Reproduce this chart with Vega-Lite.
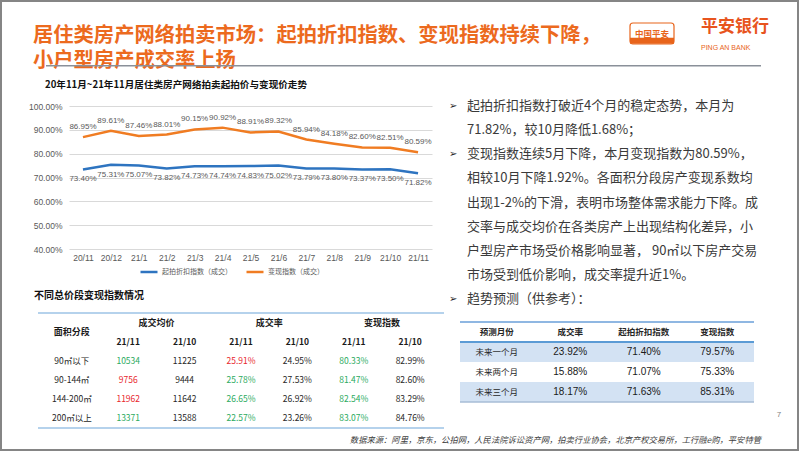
{
  "$schema": "https://vega.github.io/schema/vega-lite/v6.json",
  "padding": 0,
  "background": "white",
  "config": {"view": {"stroke": null}, "concat": {"spacing": 0}, "font": "Noto Sans CJK SC"},
  "columns": 3, "align": "each", "bounds": "flush", "spacing": 0,
  "concat": [
    {"width": 2, "height": 2, "view": {"fill": "#858585", "stroke": null}, "data": {"values": []}, "mark": "text", "encoding": {}},
    {"width": 795, "height": 2, "view": {"fill": "#858585", "stroke": null}, "data": {"values": []}, "mark": "text", "encoding": {}},
    {"width": 2, "height": 2, "view": {"fill": "#858585", "stroke": null}, "data": {"values": []}, "mark": "text", "encoding": {}},
    {"width": 2, "height": 447, "view": {"fill": "#858585", "stroke": null}, "data": {"values": []}, "mark": "text", "encoding": {}},
    {
      "columns": 2, "align": "each", "bounds": "flush", "spacing": 0,
      "concat": [
        {"width": 0.01, "height": 63, "data": {"values": []}, "mark": "text", "encoding": {}},
        {
          "bounds": "flush", "spacing": 0,
          "hconcat": [
            {"width": 30, "height": 63, "data": {"values": []}, "mark": "text", "encoding": {}},
            {
              "width": 589, "height": 63,
              "data": {"values": [
                {"line": 1, "col": "t", "text": "居住类房产网络拍卖市场：起拍折扣指数、变现指数持续下降，"},
                {"line": 2, "col": "t", "text": "小户型房产成交率上扬"}
              ]},
              "mark": {"type": "text", "align": "left", "baseline": "middle", "fontSize": 20.3, "fontWeight": "bold", "color": "#EC6A1E"},
              "encoding": {
                "x": {"field": "col", "type": "nominal", "axis": null, "scale": {"type": "point", "padding": 0, "align": 0}},
                "y": {"field": "line", "type": "ordinal", "axis": null, "scale": {"type": "point", "padding": 0.76, "align": 0.895}},
                "text": {"field": "text"}
              }
            },
            {"width": 8, "height": 63, "data": {"values": []}, "mark": "text", "encoding": {}},
            {
              "width": 44, "height": 63,
              "layer": [
                {
                  "data": {"values": [{"part": "box"}]},
                  "mark": {"type": "rect", "fill": "white", "stroke": "#E8641B", "strokeWidth": 1.2, "cornerRadius": 3},
                  "encoding": {"y": {"field": "part", "type": "nominal", "axis": null, "scale": {"type": "band", "domain": ["a", "box", "c"], "paddingInner": 0, "paddingOuter": 0}}}
                },
                {
                  "data": {"values": [{"part": "box"}]},
                  "mark": {"type": "rule", "color": "#E8641B", "strokeWidth": 6},
                  "encoding": {"y": {"field": "part", "type": "nominal", "bandPosition": 0.85, "axis": null, "scale": {"type": "band", "domain": ["a", "box", "c"], "paddingInner": 0, "paddingOuter": 0}}}
                },
                {
                  "data": {"values": [{"part": "box", "text": "中国平安"}]},
                  "mark": {"type": "text", "color": "#E8641B", "fontSize": 8.5, "fontWeight": "bold", "baseline": "middle"},
                  "encoding": {
                    "y": {"field": "part", "type": "nominal", "bandPosition": 0.5, "axis": null, "scale": {"type": "band", "domain": ["a", "box", "c"], "paddingInner": 0, "paddingOuter": 0}},
                    "text": {"field": "text"}
                  }
                }
              ]
            },
            {"width": 27, "height": 63, "data": {"values": []}, "mark": "text", "encoding": {}},
            {
              "width": 70, "height": 63,
              "data": {"values": [
                {"k": "cn", "c": "x", "text": "平安银行"},
                {"k": "en", "c": "x", "text": "PING AN BANK"}
              ]},
              "encoding": {
                "x": {"field": "c", "type": "nominal", "axis": null, "scale": {"type": "point", "padding": 0, "align": 0}},
                "y": {"field": "k", "type": "nominal", "axis": null, "scale": {"type": "point", "domain": ["cn", "en"], "padding": 3.44, "align": 0.6}},
                "text": {"field": "text"}
              },
              "layer": [
                {"transform": [{"filter": "datum.k === 'cn'"}], "mark": {"type": "text", "align": "left", "baseline": "middle", "fontSize": 17, "fontWeight": "bold", "color": "#E8541E"}},
                {"transform": [{"filter": "datum.k === 'en'"}], "mark": {"type": "text", "align": "left", "baseline": "middle", "fontSize": 7, "font": "Liberation Sans", "color": "#E8641B"}}
              ]
            }
          ]
        },
        {"width": 0.01, "height": 2, "data": {"values": []}, "mark": "text", "encoding": {}},
        {
          "bounds": "flush", "spacing": 0,
          "hconcat": [
            {"width": 43, "height": 2, "data": {"values": []}, "mark": "text", "encoding": {}},
            {"width": 715, "height": 1.5, "view": {"fill": "#8A9099", "stroke": null}, "data": {"values": []}, "mark": "text", "encoding": {}}
          ]
        },
        {"width": 0.01, "height": 360, "data": {"values": []}, "mark": "text", "encoding": {}},
        {
          "columns": 2, "align": "each", "bounds": "flush", "spacing": 0,
          "concat": [
            {"width": 440, "height": 0.01, "data": {"values": []}, "mark": "text", "encoding": {}},
            {"width": 355, "height": 0.01, "data": {"values": []}, "mark": "text", "encoding": {}},
            {
              "columns": 2, "align": "each", "bounds": "flush", "spacing": 0,
              "concat": [
                {"width": 0.01, "height": 38, "data": {"values": []}, "mark": "text", "encoding": {}},
                {"width": 0.01, "height": 0.01, "data": {"values": []}, "mark": "text", "encoding": {}},
                {"width": 0.01, "height": 143, "data": {"values": []}, "mark": "text", "encoding": {}},
                {
                  "bounds": "flush", "spacing": 0,
                  "hconcat": [
                    {"width": 65, "height": 143, "data": {"values": []}, "mark": "text", "encoding": {}},
                    {
                      "width": 363, "height": 143,
                      "title": {"text": "20年11月~21年11月居住类房产网络拍卖起拍价与变现价走势", "anchor": "start", "frame": "group", "dx": -24, "offset": 2, "baseline": "bottom", "fontSize": 9.6, "fontWeight": "bold", "color": "#111111"},
                      "data": {"values": [
                        {"month": "20/11", "series": "起拍折扣指数（成交）", "value": 0.7340},
                        {"month": "20/12", "series": "起拍折扣指数（成交）", "value": 0.7531},
                        {"month": "21/1", "series": "起拍折扣指数（成交）", "value": 0.7507},
                        {"month": "21/2", "series": "起拍折扣指数（成交）", "value": 0.7382},
                        {"month": "21/3", "series": "起拍折扣指数（成交）", "value": 0.7473},
                        {"month": "21/4", "series": "起拍折扣指数（成交）", "value": 0.7474},
                        {"month": "21/5", "series": "起拍折扣指数（成交）", "value": 0.7483},
                        {"month": "21/6", "series": "起拍折扣指数（成交）", "value": 0.7502},
                        {"month": "21/7", "series": "起拍折扣指数（成交）", "value": 0.7379},
                        {"month": "21/8", "series": "起拍折扣指数（成交）", "value": 0.7380},
                        {"month": "21/9", "series": "起拍折扣指数（成交）", "value": 0.7337},
                        {"month": "21/10", "series": "起拍折扣指数（成交）", "value": 0.7350},
                        {"month": "21/11", "series": "起拍折扣指数（成交）", "value": 0.7182},
                        {"month": "20/11", "series": "变现指数（成交）", "value": 0.8695},
                        {"month": "20/12", "series": "变现指数（成交）", "value": 0.8961},
                        {"month": "21/1", "series": "变现指数（成交）", "value": 0.8746},
                        {"month": "21/2", "series": "变现指数（成交）", "value": 0.8801},
                        {"month": "21/3", "series": "变现指数（成交）", "value": 0.9015},
                        {"month": "21/4", "series": "变现指数（成交）", "value": 0.9092},
                        {"month": "21/5", "series": "变现指数（成交）", "value": 0.8891},
                        {"month": "21/6", "series": "变现指数（成交）", "value": 0.8932},
                        {"month": "21/7", "series": "变现指数（成交）", "value": 0.8594},
                        {"month": "21/8", "series": "变现指数（成交）", "value": 0.8418},
                        {"month": "21/9", "series": "变现指数（成交）", "value": 0.8260},
                        {"month": "21/10", "series": "变现指数（成交）", "value": 0.8251},
                        {"month": "21/11", "series": "变现指数（成交）", "value": 0.8059}
                      ]},
                      "encoding": {
                        "x": {"field": "month", "type": "ordinal", "sort": ["20/11", "20/12", "21/1", "21/2", "21/3", "21/4", "21/5", "21/6", "21/7", "21/8", "21/9", "21/10", "21/11"], "scale": {"type": "point", "padding": 0.5},
                          "axis": {"title": null, "domain": false, "ticks": false, "grid": false, "labelAngle": 0, "labelColor": "#595959", "labelFontSize": 8.5, "labelFont": "Liberation Sans", "labelPadding": 4}},
                        "y": {"field": "value", "type": "quantitative", "scale": {"domain": [0.4, 1]},
                          "axis": {"title": null, "format": ".2%", "values": [0.4, 0.5, 0.6, 0.7, 0.8, 0.9, 1.0], "domain": false, "ticks": false, "gridColor": "#D9D9D9", "gridWidth": 1, "labelColor": "#595959", "labelFontSize": 8.5, "labelFont": "Liberation Sans", "labelPadding": 7}}
                      },
                      "layer": [
                        {
                          "mark": {"type": "line", "strokeWidth": 2.5},
                          "encoding": {
                            "color": {"field": "series", "type": "nominal",
                              "scale": {"domain": ["起拍折扣指数（成交）", "变现指数（成交）"], "range": ["#2E74C0", "#F07C22"]},
                              "legend": {"orient": "none", "legendX": 139, "legendY": 262, "direction": "horizontal", "title": null, "symbolType": "stroke", "symbolStrokeWidth": 2.5, "symbolSize": 289, "labelFontSize": 7, "labelColor": "#595959", "columnPadding": 9, "labelOffset": 3}}
                          }
                        },
                        {
                          "transform": [{"filter": "datum.series === '变现指数（成交）'"}],
                          "mark": {"type": "text", "dy": -10, "fontSize": 8, "font": "Liberation Sans", "color": "#595959"},
                          "encoding": {"text": {"field": "value", "format": ".2%"}}
                        },
                        {
                          "transform": [{"filter": "datum.series === '起拍折扣指数（成交）'"}],
                          "mark": {"type": "text", "dy": 10, "fontSize": 8, "font": "Liberation Sans", "color": "#595959"},
                          "encoding": {"text": {"field": "value", "format": ".2%"}}
                        }
                      ]
                    }
                  ]
                },
                {"width": 0.01, "height": 64, "data": {"values": []}, "mark": "text", "encoding": {}},
                {"width": 0.01, "height": 0.01, "data": {"values": []}, "mark": "text", "encoding": {}},
                {"width": 0.01, "height": 115, "data": {"values": []}, "mark": "text", "encoding": {}},
                {
                  "bounds": "flush", "spacing": 0,
                  "hconcat": [
                    {"width": 34, "height": 115, "data": {"values": []}, "mark": "text", "encoding": {}},
                    {
                      "width": 406, "height": 115,
                      "title": {"text": "不同总价段变现指数情况", "anchor": "start", "frame": "group", "dx": -4, "offset": 1, "baseline": "bottom", "fontSize": 10, "fontWeight": "bold", "color": "#111111"},
                      "data": {"values": [
                        {"row": "r1", "col": "c0", "text": "90㎡以下", "tone": "black"},
                        {"row": "r1", "col": "c1", "text": "10534", "tone": "green"},
                        {"row": "r1", "col": "c2", "text": "11225", "tone": "black"},
                        {"row": "r1", "col": "c3", "text": "25.91%", "tone": "red"},
                        {"row": "r1", "col": "c4", "text": "24.95%", "tone": "black"},
                        {"row": "r1", "col": "c5", "text": "80.33%", "tone": "green"},
                        {"row": "r1", "col": "c6", "text": "82.99%", "tone": "black"},
                        {"row": "r2", "col": "c0", "text": "90-144㎡", "tone": "black"},
                        {"row": "r2", "col": "c1", "text": "9756", "tone": "red"},
                        {"row": "r2", "col": "c2", "text": "9444", "tone": "black"},
                        {"row": "r2", "col": "c3", "text": "25.78%", "tone": "green"},
                        {"row": "r2", "col": "c4", "text": "27.53%", "tone": "black"},
                        {"row": "r2", "col": "c5", "text": "81.47%", "tone": "green"},
                        {"row": "r2", "col": "c6", "text": "82.60%", "tone": "black"},
                        {"row": "r3", "col": "c0", "text": "144-200㎡", "tone": "black"},
                        {"row": "r3", "col": "c1", "text": "11962", "tone": "red"},
                        {"row": "r3", "col": "c2", "text": "11642", "tone": "black"},
                        {"row": "r3", "col": "c3", "text": "26.65%", "tone": "green"},
                        {"row": "r3", "col": "c4", "text": "26.92%", "tone": "black"},
                        {"row": "r3", "col": "c5", "text": "82.54%", "tone": "green"},
                        {"row": "r3", "col": "c6", "text": "83.29%", "tone": "black"},
                        {"row": "r4", "col": "c0", "text": "200㎡以上", "tone": "black"},
                        {"row": "r4", "col": "c1", "text": "13371", "tone": "green"},
                        {"row": "r4", "col": "c2", "text": "13588", "tone": "black"},
                        {"row": "r4", "col": "c3", "text": "22.57%", "tone": "green"},
                        {"row": "r4", "col": "c4", "text": "23.26%", "tone": "black"},
                        {"row": "r4", "col": "c5", "text": "83.07%", "tone": "green"},
                        {"row": "r4", "col": "c6", "text": "84.76%", "tone": "black"}
                      ]},
                      "layer": [
                        {
                          "data": {"values": [{"row": "h1"}]},
                          "mark": {"type": "rule", "color": "#9DC3E6", "strokeWidth": 1.5},
                          "encoding": {"y": {"field": "row", "type": "nominal", "bandPosition": 0, "axis": null, "scale": {"type": "band", "domain": ["h1", "h2", "r1", "r2", "r3", "r4"], "paddingInner": 0, "paddingOuter": 0}}}
                        },
                        {
                          "data": {"values": [{"row": "r4"}]},
                          "mark": {"type": "rule", "color": "#9DC3E6", "strokeWidth": 1.5},
                          "encoding": {"y": {"field": "row", "type": "nominal", "bandPosition": 1, "axis": null, "scale": {"type": "band", "domain": ["h1", "h2", "r1", "r2", "r3", "r4"], "paddingInner": 0, "paddingOuter": 0}}}
                        },
                        {
                          "data": {"values": [{"row": "h1", "col": "c0", "text": "面积分段"}]},
                          "mark": {"type": "text", "fontSize": 9, "fontWeight": "bold", "color": "#1A1A1A"},
                          "encoding": {
                            "x": {"field": "col", "type": "nominal", "axis": null, "scale": {"type": "band", "domain": ["c0", "c1", "c2", "c3", "c4", "c5", "c6"], "paddingInner": 0, "paddingOuter": 0.1}},
                            "y": {"field": "row", "type": "nominal", "bandPosition": 1, "axis": null, "scale": {"type": "band", "domain": ["h1", "h2", "r1", "r2", "r3", "r4"], "paddingInner": 0, "paddingOuter": 0}},
                            "text": {"field": "text"}
                          }
                        },
                        {
                          "data": {"values": [
                            {"row": "h1", "col": "c1", "text": "成交均价"},
                            {"row": "h1", "col": "c3", "text": "成交率"},
                            {"row": "h1", "col": "c5", "text": "变现指数"}
                          ]},
                          "mark": {"type": "text", "fontSize": 9, "fontWeight": "bold", "color": "#1A1A1A"},
                          "encoding": {
                            "x": {"field": "col", "type": "nominal", "bandPosition": 1, "axis": null, "scale": {"type": "band", "domain": ["c0", "c1", "c2", "c3", "c4", "c5", "c6"], "paddingInner": 0, "paddingOuter": 0.1}},
                            "y": {"field": "row", "type": "nominal", "axis": null, "scale": {"type": "band", "domain": ["h1", "h2", "r1", "r2", "r3", "r4"], "paddingInner": 0, "paddingOuter": 0}},
                            "text": {"field": "text"}
                          }
                        },
                        {
                          "data": {"values": [
                            {"row": "h2", "col": "c1", "text": "21/11"},
                            {"row": "h2", "col": "c2", "text": "21/10"},
                            {"row": "h2", "col": "c3", "text": "21/11"},
                            {"row": "h2", "col": "c4", "text": "21/10"},
                            {"row": "h2", "col": "c5", "text": "21/11"},
                            {"row": "h2", "col": "c6", "text": "21/10"}
                          ]},
                          "mark": {"type": "text", "fontSize": 8.5, "fontWeight": "bold", "color": "#1A1A1A"},
                          "encoding": {
                            "x": {"field": "col", "type": "nominal", "axis": null, "scale": {"type": "band", "domain": ["c0", "c1", "c2", "c3", "c4", "c5", "c6"], "paddingInner": 0, "paddingOuter": 0.1}},
                            "y": {"field": "row", "type": "nominal", "axis": null, "scale": {"type": "band", "domain": ["h1", "h2", "r1", "r2", "r3", "r4"], "paddingInner": 0, "paddingOuter": 0}},
                            "text": {"field": "text"}
                          }
                        },
                        {
                          "transform": [{"filter": "datum.tone === 'black'"}],
                          "mark": {"type": "text", "fontSize": 8.5, "color": "#262626"},
                          "encoding": {
                            "x": {"field": "col", "type": "nominal", "axis": null, "scale": {"type": "band", "domain": ["c0", "c1", "c2", "c3", "c4", "c5", "c6"], "paddingInner": 0, "paddingOuter": 0.1}},
                            "y": {"field": "row", "type": "nominal", "axis": null, "scale": {"type": "band", "domain": ["h1", "h2", "r1", "r2", "r3", "r4"], "paddingInner": 0, "paddingOuter": 0}},
                            "text": {"field": "text"}
                          }
                        },
                        {
                          "transform": [{"filter": "datum.tone === 'green'"}],
                          "mark": {"type": "text", "fontSize": 8.5, "color": "#2BAA5E"},
                          "encoding": {
                            "x": {"field": "col", "type": "nominal", "axis": null, "scale": {"type": "band", "domain": ["c0", "c1", "c2", "c3", "c4", "c5", "c6"], "paddingInner": 0, "paddingOuter": 0.1}},
                            "y": {"field": "row", "type": "nominal", "axis": null, "scale": {"type": "band", "domain": ["h1", "h2", "r1", "r2", "r3", "r4"], "paddingInner": 0, "paddingOuter": 0}},
                            "text": {"field": "text"}
                          }
                        },
                        {
                          "transform": [{"filter": "datum.tone === 'red'"}],
                          "mark": {"type": "text", "fontSize": 8.5, "color": "#E8262C"},
                          "encoding": {
                            "x": {"field": "col", "type": "nominal", "axis": null, "scale": {"type": "band", "domain": ["c0", "c1", "c2", "c3", "c4", "c5", "c6"], "paddingInner": 0, "paddingOuter": 0.1}},
                            "y": {"field": "row", "type": "nominal", "axis": null, "scale": {"type": "band", "domain": ["h1", "h2", "r1", "r2", "r3", "r4"], "paddingInner": 0, "paddingOuter": 0}},
                            "text": {"field": "text"}
                          }
                        }
                      ]
                    }
                  ]
                }
              ]
            },
            {
              "columns": 2, "align": "each", "bounds": "flush", "spacing": 0,
              "concat": [
                {"width": 0.01, "height": 26, "data": {"values": []}, "mark": "text", "encoding": {}},
                {"width": 0.01, "height": 0.01, "data": {"values": []}, "mark": "text", "encoding": {}},
                {"width": 0.01, "height": 217, "data": {"values": []}, "mark": "text", "encoding": {}},
                {
                  "bounds": "flush", "spacing": 0,
                  "hconcat": [
                    {"width": 5, "height": 217, "data": {"values": []}, "mark": "text", "encoding": {}},
                    {
                      "width": 18, "height": 217,
                      "data": {"values": [
                        {"line": 1, "kind": "m", "text": "➢"},
                        {"line": 1, "kind": "t", "text": "起拍折扣指数打破近4个月的稳定态势，本月为"},
                        {"line": 2, "kind": "t", "text": "71.82%，较10月降低1.68%；"},
                        {"line": 3, "kind": "m", "text": "➢"},
                        {"line": 3, "kind": "t", "text": "变现指数连续5月下降，本月变现指数为80.59%，"},
                        {"line": 4, "kind": "t", "text": "相较10月下降1.92%。各面积分段房产变现系数均"},
                        {"line": 5, "kind": "t", "text": "出现1-2%的下滑，表明市场整体需求能力下降。成"},
                        {"line": 6, "kind": "t", "text": "交率与成交均价在各类房产上出现结构化差异，小"},
                        {"line": 7, "kind": "t", "text": "户型房产市场受价格影响显著， 90㎡以下房产交易"},
                        {"line": 8, "kind": "t", "text": "市场受到低价影响，成交率提升近1%。"},
                        {"line": 9, "kind": "m", "text": "➢"},
                        {"line": 9, "kind": "t", "text": "趋势预测（供参考）："}
                      ]},
                      "encoding": {
                        "x": {"field": "kind", "type": "nominal", "axis": null, "scale": {"type": "point", "domain": ["m", "t"], "padding": 0}},
                        "y": {"field": "line", "type": "ordinal", "axis": null, "scale": {"type": "point", "domain": [1, 2, 3, 4, 5, 6, 7, 8, 9], "padding": 0.5}},
                        "text": {"field": "text"}
                      },
                      "layer": [
                        {"transform": [{"filter": "datum.kind === 'm'"}], "mark": {"type": "text", "align": "left", "baseline": "middle", "fontSize": 10, "color": "#262626"}},
                        {"transform": [{"filter": "datum.kind === 't'"}], "mark": {"type": "text", "align": "left", "baseline": "middle", "fontSize": 13, "color": "#3A3A3A"}}
                      ]
                    }
                  ]
                },
                {"width": 0.01, "height": 11, "data": {"values": []}, "mark": "text", "encoding": {}},
                {"width": 0.01, "height": 0.01, "data": {"values": []}, "mark": "text", "encoding": {}},
                {"width": 0.01, "height": 80, "data": {"values": []}, "mark": "text", "encoding": {}},
                {
                  "bounds": "flush", "spacing": 0,
                  "hconcat": [
                    {"width": 16, "height": 80, "data": {"values": []}, "mark": "text", "encoding": {}},
                    {
                      "width": 294, "height": 80,
                      "layer": [
                        {
                          "data": {"values": [{"row": "r1"}, {"row": "r3"}]},
                          "mark": {"type": "rect", "color": "#D3E2F3"},
                          "encoding": {"y": {"field": "row", "type": "nominal", "axis": null, "scale": {"type": "band", "domain": ["h", "r1", "r2", "r3"], "paddingInner": 0, "paddingOuter": 0}}}
                        },
                        {
                          "data": {"values": [{"row": "h"}]},
                          "mark": {"type": "rule", "color": "#6A9FD8", "strokeWidth": 1.5},
                          "encoding": {"y": {"field": "row", "type": "nominal", "bandPosition": 0, "axis": null, "scale": {"type": "band", "domain": ["h", "r1", "r2", "r3"], "paddingInner": 0, "paddingOuter": 0}}}
                        },
                        {
                          "data": {"values": [{"row": "h"}]},
                          "mark": {"type": "rule", "color": "#5B9BD5", "strokeWidth": 2},
                          "encoding": {"y": {"field": "row", "type": "nominal", "bandPosition": 1, "axis": null, "scale": {"type": "band", "domain": ["h", "r1", "r2", "r3"], "paddingInner": 0, "paddingOuter": 0}}}
                        },
                        {
                          "data": {"values": [{"row": "r3"}]},
                          "mark": {"type": "rule", "color": "#A7BCD6", "strokeWidth": 1.5},
                          "encoding": {"y": {"field": "row", "type": "nominal", "bandPosition": 1, "axis": null, "scale": {"type": "band", "domain": ["h", "r1", "r2", "r3"], "paddingInner": 0, "paddingOuter": 0}}}
                        },
                        {
                          "data": {"values": [
                            {"row": "h", "col": "c0", "text": "预测月份"},
                            {"row": "h", "col": "c1", "text": "成交率"},
                            {"row": "h", "col": "c2", "text": "起拍折扣指数"},
                            {"row": "h", "col": "c3", "text": "变现指数"}
                          ]},
                          "mark": {"type": "text", "fontSize": 8.5, "fontWeight": "bold", "color": "#262626"},
                          "encoding": {
                            "x": {"field": "col", "type": "nominal", "axis": null, "scale": {"type": "band", "domain": ["c0", "c1", "c2", "c3"], "paddingInner": 0, "paddingOuter": 0}},
                            "y": {"field": "row", "type": "nominal", "axis": null, "scale": {"type": "band", "domain": ["h", "r1", "r2", "r3"], "paddingInner": 0, "paddingOuter": 0}},
                            "text": {"field": "text"}
                          }
                        },
                        {
                          "data": {"values": [
                            {"row": "r1", "col": "c0", "text": "未来一个月"},
                            {"row": "r2", "col": "c0", "text": "未来两个月"},
                            {"row": "r3", "col": "c0", "text": "未来三个月"}
                          ]},
                          "mark": {"type": "text", "fontSize": 8.5, "color": "#262626"},
                          "encoding": {
                            "x": {"field": "col", "type": "nominal", "axis": null, "scale": {"type": "band", "domain": ["c0", "c1", "c2", "c3"], "paddingInner": 0, "paddingOuter": 0}},
                            "y": {"field": "row", "type": "nominal", "axis": null, "scale": {"type": "band", "domain": ["h", "r1", "r2", "r3"], "paddingInner": 0, "paddingOuter": 0}},
                            "text": {"field": "text"}
                          }
                        },
                        {
                          "data": {"values": [
                            {"row": "r1", "col": "c1", "text": "23.92%"},
                            {"row": "r1", "col": "c2", "text": "71.40%"},
                            {"row": "r1", "col": "c3", "text": "79.57%"},
                            {"row": "r2", "col": "c1", "text": "15.88%"},
                            {"row": "r2", "col": "c2", "text": "71.07%"},
                            {"row": "r2", "col": "c3", "text": "75.33%"},
                            {"row": "r3", "col": "c1", "text": "18.17%"},
                            {"row": "r3", "col": "c2", "text": "71.63%"},
                            {"row": "r3", "col": "c3", "text": "85.31%"}
                          ]},
                          "mark": {"type": "text", "fontSize": 10, "font": "Liberation Sans", "color": "#1A1A1A"},
                          "encoding": {
                            "x": {"field": "col", "type": "nominal", "axis": null, "scale": {"type": "band", "domain": ["c0", "c1", "c2", "c3"], "paddingInner": 0, "paddingOuter": 0}},
                            "y": {"field": "row", "type": "nominal", "axis": null, "scale": {"type": "band", "domain": ["h", "r1", "r2", "r3"], "paddingInner": 0, "paddingOuter": 0}},
                            "text": {"field": "text"}
                          }
                        }
                      ]
                    }
                  ]
                },
                {"width": 0.01, "height": 26, "data": {"values": []}, "mark": "text", "encoding": {}},
                {
                  "bounds": "flush", "spacing": 0,
                  "hconcat": [
                    {"width": 330, "height": 26, "data": {"values": []}, "mark": "text", "encoding": {}},
                    {"width": 10, "height": 26, "data": {"values": [{"text": "7"}]}, "mark": {"type": "text", "fontSize": 8, "font": "Liberation Sans", "color": "#7F7F7F"}, "encoding": {"text": {"field": "text"}}}
                  ]
                }
              ]
            }
          ]
        },
        {"width": 0.01, "height": 22, "data": {"values": []}, "mark": "text", "encoding": {}},
        {
          "bounds": "flush", "spacing": 0,
          "hconcat": [
            {"width": 458, "height": 22, "data": {"values": []}, "mark": "text", "encoding": {}},
            {
              "width": 300, "height": 22,
              "data": {"values": [{"c": "x", "r": "y", "text": "数据来源：阿里，京东，公拍网，人民法院诉讼资产网，拍卖行业协会，北京产权交易所，工行融e购，平安特管"}]},
              "mark": {"type": "text", "align": "right", "baseline": "middle", "fontSize": 8.3, "fontStyle": "italic", "color": "#404040"},
              "encoding": {
                "x": {"field": "c", "type": "nominal", "axis": null, "scale": {"type": "point", "padding": 0, "align": 1}},
                "y": {"field": "r", "type": "nominal", "axis": null, "scale": {"type": "point", "padding": 0, "align": 0.614}},
                "text": {"field": "text"}
              }
            }
          ]
        }
      ]
    },
    {"width": 2, "height": 447, "view": {"fill": "#858585", "stroke": null}, "data": {"values": []}, "mark": "text", "encoding": {}},
    {"width": 2, "height": 2, "view": {"fill": "#858585", "stroke": null}, "data": {"values": []}, "mark": "text", "encoding": {}},
    {"width": 795, "height": 2, "view": {"fill": "#858585", "stroke": null}, "data": {"values": []}, "mark": "text", "encoding": {}},
    {"width": 2, "height": 2, "view": {"fill": "#858585", "stroke": null}, "data": {"values": []}, "mark": "text", "encoding": {}}
  ]
}
